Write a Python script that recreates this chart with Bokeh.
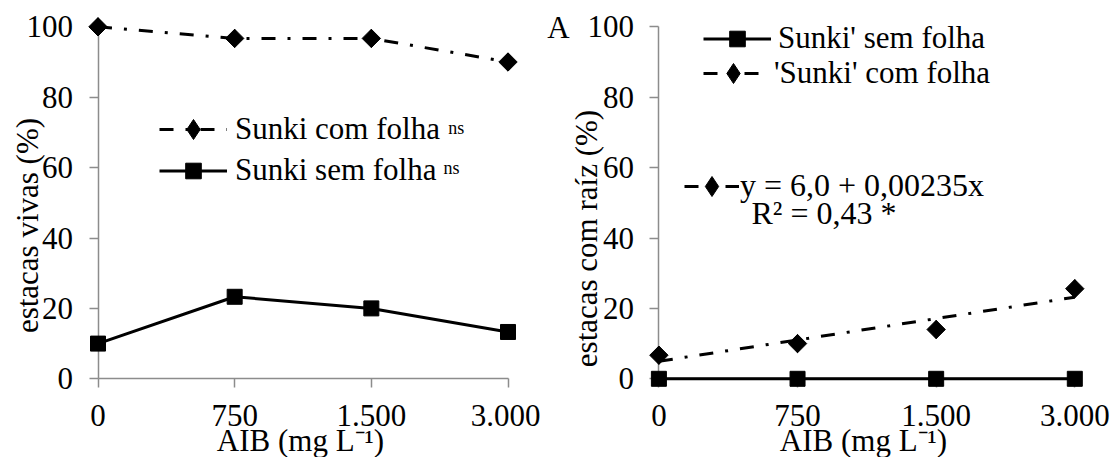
import numpy as np
from bokeh.plotting import figure
from bokeh.layouts import row
from bokeh.models import Range1d, FixedTicker, Legend, LegendItem, Label
from bokeh.embed import file_html
from bokeh.resources import INLINE

# ---------------- data ----------------
doses = ["0", "750", "1.500", "3.000"]          # AIB (mg L-1), category labels
vivas_sem_folha = [10.0, 23.3, 20.0, 13.3]      # estacas vivas (%) - Sunki sem folha
vivas_com_folha = [100.0, 96.7, 96.7, 90.0]     # estacas vivas (%) - Sunki com folha
raiz_sem_folha = [0.0, 0.0, 0.0, 0.0]           # estacas com raiz (%) - sem folha
raiz_com_folha = [6.7, 10.0, 14.0, 25.6]        # estacas com raiz (%) - com folha
y_ticks = [0, 20, 40, 60, 80, 100]

# ---------------- layout / style ----------------
FONT = "Liberation Serif"
AXIS_COLOR = "#8c8c8c"
DASHDOT = "14 12 3 12"
H = 457
Y_PX0 = 378.3      # pixel row of value 0
Y_PX100 = 26.3     # pixel row of value 100

x_pos = list(range(len(doses)))
N = len(doses) - 1


def make_panel(width, x_first_px, x_last_px):
    step = (x_last_px - x_first_px) / N
    unit = (Y_PX0 - Y_PX100) / 100.0
    p = figure(width=width, height=H,
               min_border_left=0, min_border_right=0, min_border_top=0, min_border_bottom=0,
               x_range=Range1d(-x_first_px / step, (width - x_first_px) / step),
               y_range=Range1d(-(H - Y_PX0) / unit, Y_PX0 / unit),
               output_backend="svg", toolbar_location=None)
    p.outline_line_color = None
    p.xgrid.visible = False
    p.ygrid.visible = False
    p.background_fill_color = "white"
    p.border_fill_color = "white"
    for ax in (p.xaxis[0], p.yaxis[0]):
        ax.level = "underlay"
        ax.axis_line_color = AXIS_COLOR
        ax.axis_line_width = 1.5
        ax.major_tick_line_color = AXIS_COLOR
        ax.major_tick_line_width = 1.5
        ax.major_tick_out = 9
        ax.major_tick_in = 0
        ax.minor_tick_line_color = None
        ax.major_label_text_font = FONT
        ax.major_label_text_font_size = "31px"
        ax.major_label_text_color = "black"
    p.xaxis.fixed_location = 0
    p.yaxis.fixed_location = 0
    p.xaxis.bounds = (0, N)
    p.yaxis.bounds = (0, 100)
    p.xaxis.ticker = FixedTicker(ticks=x_pos)
    p.xaxis.major_label_overrides = {i: d for i, d in enumerate(doses)}
    p.yaxis.ticker = FixedTicker(ticks=y_ticks)
    p.xaxis.major_label_standoff = 17
    p.yaxis.major_label_standoff = 16
    return p


def add_text(p, X, Y, text, size="31px", angle=0.0, align="left", baseline="middle"):
    p.add_layout(Label(x=X, y=H - Y, x_units="screen", y_units="screen",
                       text=text, text_font=FONT, text_font_size=size, text_color="black",
                       angle=angle, text_align=align, text_baseline=baseline))


def add_legend(p, label, renderers, glyph_left, center_y, glyph_w, glyph_h, standoff, size="31px"):
    p.add_layout(Legend(items=[LegendItem(label=label, renderers=renderers)],
                        location=(glyph_left, H - (center_y + glyph_h / 2.0)),
                        glyph_width=glyph_w, glyph_height=glyph_h,
                        label_standoff=standoff, spacing=0, padding=0, margin=0,
                        border_line_color=None, background_fill_alpha=0,
                        label_text_font=FONT, label_text_font_size=size,
                        label_text_color="black"))


def diamonds(p, ys):
    # legend-style diamond underneath, rotated square (visible diamond) on top
    r = p.scatter(x_pos, ys, marker="diamond", size=18, color="black")
    p.scatter(x_pos, ys, marker="square", angle=np.pi / 4, size=13, color="black")
    return r


# ---------------- panel 1: estacas vivas ----------------
p1 = make_panel(540, 97.5, 507.5)
r_sem_line = p1.line(x_pos, vivas_sem_folha, line_width=3, color="black")
r_sem_pts = p1.scatter(x_pos, vivas_sem_folha, marker="square", size=15, color="black")
r_com_line = p1.line(x_pos, vivas_com_folha, line_width=3, line_dash=DASHDOT, color="black")
r_com_pts = diamonds(p1, vivas_com_folha)

add_legend(p1, "Sunki com folha", [r_com_line, r_com_pts], 159, 128.5, 68, 50, 8)
add_legend(p1, "Sunki sem folha", [r_sem_line, r_sem_pts], 159, 170, 68, 39, 8)
add_text(p1, 447.7, 127.5, "ns", size="18px")
add_text(p1, 443, 167.5, "ns", size="18px")
add_text(p1, 27, 225, "estacas vivas (%)", angle=np.pi / 2, align="center")
add_text(p1, 300, 439.5, "AIB (mg L\u207b\u00b9)", align="center")

# ---------------- panel 2: estacas com raiz ----------------
OFF = 540
p2 = make_panel(574, 658.4 - OFF, 1074.3 - OFF)
coef = np.polyfit(np.array(x_pos) + 1, raiz_com_folha, 1)
trend_x = [x_pos[0], x_pos[-1]]
trend_y = list(np.polyval(coef, np.array(trend_x) + 1))
r_trend = p2.line(trend_x, trend_y, line_width=3, line_dash=DASHDOT, color="black")
r2_sem_line = p2.line(x_pos, raiz_sem_folha, line_width=3, color="black")
r2_sem_pts = p2.scatter(x_pos, raiz_sem_folha, marker="square", size=15, color="black")
r2_com_pts = diamonds(p2, raiz_com_folha)

add_legend(p2, "Sunki' sem folha", [r2_sem_line, r2_sem_pts], 703 - OFF, 38.3, 68, 39, 7)
add_legend(p2, "'Sunki' com folha", [r_trend, r2_com_pts], 703 - OFF, 73, 60, 50, 11)
add_legend(p2, "y = 6,0 + 0,00235x", [r_trend, r2_com_pts], 684 - OFF, 185.7, 55, 50, 1, size="32px")
add_text(p2, 751 - OFF, 212, "R\u00b2 = 0,43 *", size="32px")
add_text(p2, 558 - OFF, 27.3, "A", align="center")
add_text(p2, 585.5 - OFF, 238, "estacas com raíz (%)", angle=np.pi / 2, align="center")
add_text(p2, 863 - OFF, 439.5, "AIB (mg L\u207b\u00b9)", align="center")

layout = row(p1, p2)
open("out.html", "w").write(file_html(layout, INLINE))
